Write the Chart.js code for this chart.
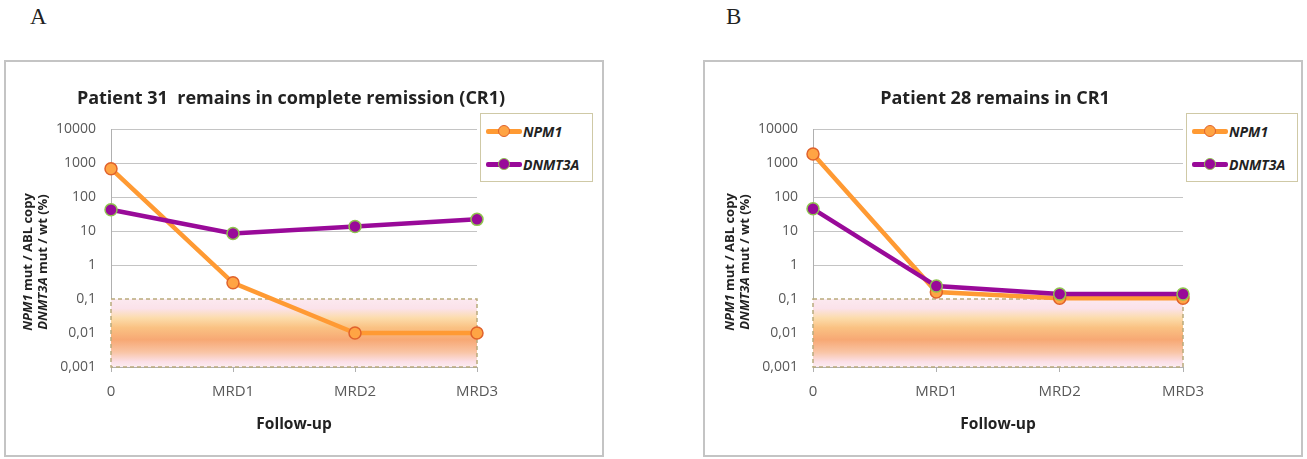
<!DOCTYPE html>
<html>
<head>
<meta charset="utf-8">
<script src="https://cdn.jsdelivr.net/npm/chart.js@4.4.1/dist/chart.umd.min.js"></script>
<style>
  body { margin: 0; width: 1307px; height: 459px; background: #fff; position: relative; overflow: hidden; font-family: "Open Sans", sans-serif; }
  .letter { position: absolute; top: 4px; font-family: "Liberation Serif", serif; font-size: 23px; color: #222; }
  .panel { position: absolute; top: 60px; width: 596px; height: 393px; border: 2px solid #c4c4c4; background: #fff; }
  .panel canvas { position: absolute; left: 0; top: 0; }
  .title { position: absolute; top: 24px; font-weight: bold; font-size: 18px; line-height: 22px; color: #222; white-space: nowrap; transform: translateX(-50%); }
  .ytitle { position: absolute; width: 220px; text-align: center; font-weight: bold; font-size: 13px; line-height: 15px; color: #222; white-space: nowrap; transform: translate(-50%, -50%) rotate(-90deg); }
  .legend { position: absolute; border: 1px solid #cfc9a6; background: #fff; box-sizing: border-box; }
  .legend ul { list-style: none; margin: 0; padding: 1px 0 0 5px; }
  .legend li { display: flex; align-items: center; height: 33px; font-weight: bold; font-style: italic; font-size: 14px; color: #222; }
  .swatch { position: relative; width: 36px; height: 5px; margin-right: 1px; flex-shrink: 0; border-radius: 2px; }
  .swatch span { position: absolute; left: 12px; top: -4px; width: 12px; height: 12px; border-radius: 50%; box-sizing: border-box; border: 1.5px solid; }
</style>
</head>
<body>
<div class="letter" style="left:30px">A</div>
<div class="letter" style="left:726px">B</div>

<div class="panel" id="panelA" style="left:4px">
  <canvas id="chartA" width="596" height="393"></canvas>
  <div class="title" style="left:285px">Patient 31&nbsp; remains in complete remission (CR1)</div>
  <div class="ytitle" style="left:29px; top:200px"><i>NPM1</i> mut / ABL copy<br><i>DNMT3A</i> mut / wt (%)</div>
  <div class="legend" id="legendA" style="left:474px; top:51px; width:113px; height:69px"></div>
</div>

<div class="panel" id="panelB" style="left:703px">
  <canvas id="chartB" width="596" height="393"></canvas>
  <div class="title" style="left:290px">Patient 28 remains in CR1</div>
  <div class="ytitle" style="left:32px; top:200px"><i>NPM1</i> mut / ABL copy<br><i>DNMT3A</i> mut / wt (%)</div>
  <div class="legend" id="legendB" style="left:481px; top:51px; width:112px; height:69px"></div>
</div>

<script>
const followUp = ['0', 'MRD1', 'MRD2', 'MRD3'];
const npm1A = [680, 0.3, 0.01, 0.01];
const dnmt3aA = [42, 8.5, 13.5, 22];
const npm1B = [1850, 0.16, 0.105, 0.105];
const dnmt3aB = [45, 0.24, 0.14, 0.14];
const yTicks = [0.001, 0.01, 0.1, 1, 10, 100, 1000, 10000];
const yTickLabels = ['0,001', '0,01', '0,1', '1', '10', '100', '1000', '10000'];
const mrdBand = [0.001, 0.1];

Chart.defaults.font.family = '"Open Sans", sans-serif';

// shaded MRD zone between 0.001 and 0.1
const bandPlugin = {
  id: 'mrdBand',
  beforeDatasetsDraw(chart) {
    const { ctx, chartArea, scales: { y } } = chart;
    const top = y.getPixelForValue(mrdBand[1]);
    const bottom = y.getPixelForValue(mrdBand[0]);
    const g = ctx.createLinearGradient(0, top, 0, bottom);
    g.addColorStop(0, '#fce9ef');
    g.addColorStop(0.14, '#fbe2ea');
    g.addColorStop(0.28, '#fcdcab');
    g.addColorStop(0.42, '#fac283');
    g.addColorStop(0.6, '#f7a874');
    g.addColorStop(0.78, '#f9c4a4');
    g.addColorStop(0.92, '#fbdfe6');
    g.addColorStop(1, '#fdedf2');
    ctx.save();
    ctx.fillStyle = g;
    ctx.fillRect(chartArea.left, top, chartArea.right - chartArea.left, bottom - top);
    ctx.setLineDash([4, 3]);
    ctx.strokeStyle = '#b9ab7c';
    ctx.lineWidth = 1.5;
    ctx.strokeRect(chartArea.left, top, chartArea.right - chartArea.left, bottom - top);
    ctx.restore();
  }
};

function buildLegend(chart, id) {
  const box = document.getElementById(id);
  const ul = document.createElement('ul');
  chart.data.datasets.forEach((ds) => {
    const li = document.createElement('li');
    const sw = document.createElement('div');
    sw.className = 'swatch';
    sw.style.background = ds.borderColor;
    const dot = document.createElement('span');
    dot.style.background = ds.pointBackgroundColor;
    dot.style.borderColor = ds.pointBorderColor;
    sw.appendChild(dot);
    li.appendChild(sw);
    li.appendChild(document.createTextNode(ds.label));
    ul.appendChild(li);
  });
  box.appendChild(ul);
}

function makeChart(canvasId, legendId, npm1, dnmt3a, areaLeft, areaRight) {
  const ctx = document.getElementById(canvasId);
  const chart = new Chart(ctx, {
    type: 'line',
    data: {
      labels: followUp,
      datasets: [
        {
          label: 'NPM1',
          data: npm1,
          borderColor: '#ff9a33',
          borderWidth: 4.5,
          pointRadius: 6,
          pointBackgroundColor: '#ffa444',
          pointBorderColor: '#e0622c',
          pointBorderWidth: 1.5,
          order: 1,
          clip: false
        },
        {
          label: 'DNMT3A',
          data: dnmt3a,
          borderColor: '#990a99',
          borderWidth: 4.5,
          pointRadius: 6,
          pointBackgroundColor: '#990a99',
          pointBorderColor: '#8fc34f',
          pointBorderWidth: 1.5,
          order: 0,
          clip: false
        }
      ]
    },
    plugins: [bandPlugin],
    options: {
      responsive: false,
      animation: false,
      devicePixelRatio: 1,
      events: [],
      layout: { padding: { top: 67, right: 596 - areaRight, left: 0, bottom: 0 } },
      scales: {
        x: {
          type: 'category',
          offset: false,
          afterFit: (scale) => { scale.height = 88; },
          grid: { drawOnChartArea: false, drawTicks: true, tickLength: 5, color: '#b0b0b0' },
          border: { color: '#b0b0b0' },
          ticks: { color: '#595959', font: { size: 15 }, padding: 11, maxRotation: 0, autoSkip: false },
          title: { display: true, text: 'Follow-up', color: '#222', font: { size: 15.5, weight: 'bold' }, padding: { top: 0, bottom: 21 } }
        },
        y: {
          type: 'logarithmic',
          min: 0.001,
          max: 10000,
          afterBuildTicks: (scale) => { scale.ticks = yTicks.map((v) => ({ value: v })); },
          afterFit: (scale) => { scale.width = areaLeft; },
          grid: { color: '#c4c4c4', drawTicks: false },
          border: { color: '#b0b0b0' },
          ticks: {
            color: '#595959',
            font: { size: 14 },
            padding: 15,
            callback: (v, i) => yTickLabels[i]
          }
        }
      },
      plugins: {
        legend: { display: false },
        title: { display: false },
        tooltip: { enabled: false }
      }
    }
  });
  buildLegend(chart, legendId);
  return chart;
}

makeChart('chartA', 'legendA', npm1A, dnmt3aA, 105, 471);
makeChart('chartB', 'legendB', npm1B, dnmt3aB, 108, 478);
</script>
</body>
</html>
